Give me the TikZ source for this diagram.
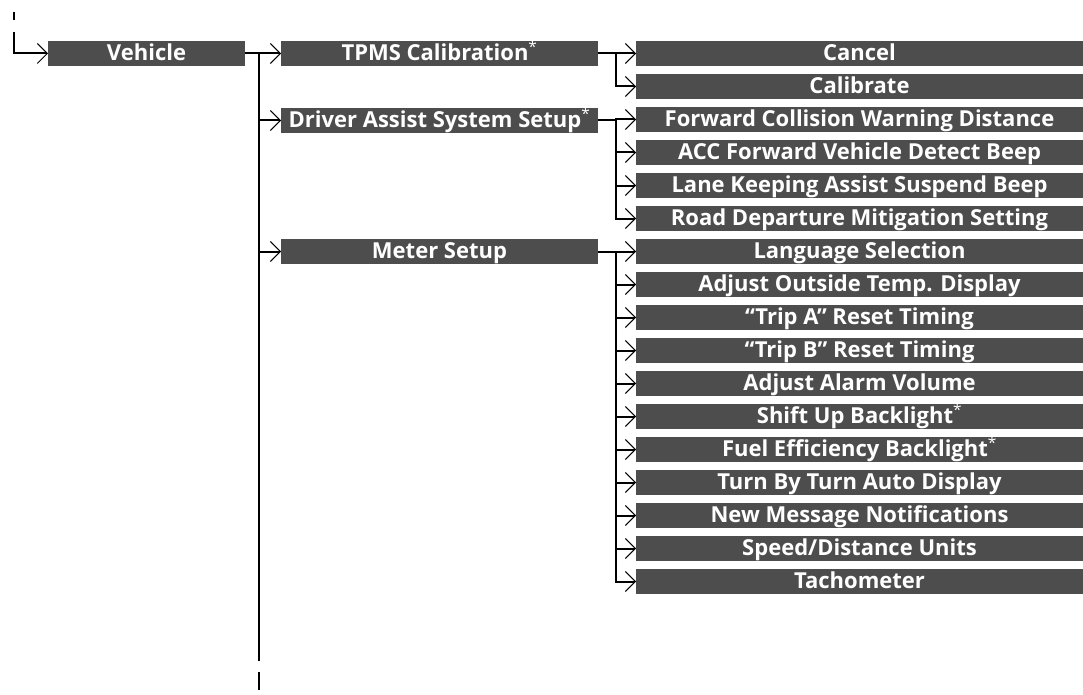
\documentclass[tikz,border=0pt]{standalone}
\usepackage{fontspec}
\setmainfont{Open Sans}
\usepackage{tikz}
\usetikzlibrary{positioning, calc, arrows.meta}
\definecolor{menugray}{HTML}{4D4D4D}
\newcommand{\opt}{\textsuperscript{\normalfont *}}

\begin{document}
\begin{tikzpicture}[
  x=1pt, y=-1pt,
  node distance=7.5pt,
  menubox/.style={fill=menugray, text=white, anchor=west, minimum height=25.5pt, inner sep=0pt, outer sep=0pt,
    text height=16pt, text depth=2pt, font=\bfseries\fontsize{22}{24}\selectfont},
  leftbox/.style={menubox, minimum width=197pt},
  midbox/.style={menubox, minimum width=317pt},
  rightbox/.style={menubox, minimum width=447pt},
  arrow/.style={-{Straight Barb[length=10pt, width=20pt, line width=1pt]}},
  line width=2pt,
]
  \useasboundingbox (0,0) rectangle (1083,695);

  % Level 1
  \node (vehicle) [leftbox] at (48,53.5) {Vehicle};

  % Level 2
  \node (tpms) [midbox] at (281,53.5) {TPMS Calibration\opt};
  \node (das) [midbox] at (281,120.5) {Driver Assist System Setup\opt};
  \node (meter) [midbox] at (281,251.5) {Meter Setup};

  % Level 3
  \node (item1) [rightbox] at (636,53.5) {Cancel};
  \node (item2) [rightbox, below=of item1.south west, anchor=north west] {Calibrate};
  \node (item3) [rightbox, below=of item2.south west, anchor=north west] {Forward Collision Warning Distance};
  \node (item4) [rightbox, below=of item3.south west, anchor=north west] {ACC Forward Vehicle Detect Beep};
  \node (item5) [rightbox, below=of item4.south west, anchor=north west] {Lane Keeping Assist Suspend Beep};
  \node (item6) [rightbox, below=of item5.south west, anchor=north west] {Road Departure Mitigation Setting};
  \node (item7) [rightbox, below=of item6.south west, anchor=north west] {Language Selection};
  \node (item8) [rightbox, below=of item7.south west, anchor=north west] {Adjust Outside Temp. Display};
  \node (item9) [rightbox, below=of item8.south west, anchor=north west] {“Trip A” Reset Timing};
  \node (item10) [rightbox, below=of item9.south west, anchor=north west] {“Trip B” Reset Timing};
  \node (item11) [rightbox, below=of item10.south west, anchor=north west] {Adjust Alarm Volume};
  \node (item12) [rightbox, below=of item11.south west, anchor=north west] {Shift Up Backlight\opt};
  \node (item13) [rightbox, below=of item12.south west, anchor=north west] {Fuel Efficiency Backlight\opt};
  \node (item14) [rightbox, below=of item13.south west, anchor=north west] {Turn By Turn Auto Display};
  \node (item15) [rightbox, below=of item14.south west, anchor=north west] {New Message Notifications};
  \node (item16) [rightbox, below=of item15.south west, anchor=north west] {Speed/Distance Units};
  \node (item17) [rightbox, below=of item16.south west, anchor=north west] {Tachometer};

  % Continuation marks
  \coordinate (marktop) at (14,12);
  \coordinate (markbot) at (14,20);
  \coordinate (start) at (14,32);
  \coordinate (trunkend) at (259,661);
  \coordinate (contop) at (259,672);
  \coordinate (conbot) at (259,690);
  \draw (marktop) -- (markbot);
  \draw (contop) -- (conbot);

  % Into the first level
  \draw [arrow] (start) |- (vehicle.west);

  % Vehicle to second level
  \draw [arrow] (vehicle.east) -- (tpms.west);
  \draw ([xshift=14pt]vehicle.east) -- (trunkend);
  \draw [arrow] (trunkend) |- (das.west);
  \draw [arrow] (trunkend) |- (meter.west);

  % Second level to third level
  \foreach \i in {1,2} {
    \draw [arrow] (tpms.east) -- ++(18pt,0) |- (item\i.west);
  }
  \foreach \i in {3,...,6} {
    \draw [arrow] (das.east) -- ++(18pt,0) |- (item\i.west);
  }
  \foreach \i in {7,...,17} {
    \draw [arrow] (meter.east) -- ++(18pt,0) |- (item\i.west);
  }

\end{tikzpicture}
\end{document}
